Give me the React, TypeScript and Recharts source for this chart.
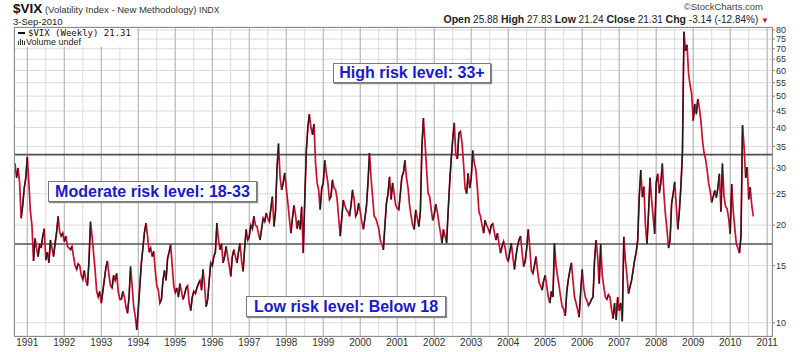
import React from 'react';
import { LineChart, Line, XAxis, YAxis, CartesianGrid, ReferenceLine } from 'recharts';

// Weekly $VIX, read off roughly twice a month (1990 starts in September)
const v1990 = [31, 28, 30, 27, 21, 23, 26, 28];
const v1991 = [32.5, 27, 22, 20, 15.5, 18.2, 17, 16, 17.5, 17, 18.5, 19.5, 15.6, 16.5, 15.3, 18, 17, 16, 17.5, 19, 21.3, 19, 18.5, 18.9];
const v1992 = [17.8, 18.5, 17.2, 17, 16.8, 17.2, 16, 15, 14.6, 15.2, 15, 14, 13.6, 14.5, 13.5, 13, 15.5, 20.5, 18.5, 16.4, 14.5, 12.5, 12, 12.5];
const v1993 = [11.5, 12.5, 13.6, 14.8, 15.5, 14, 13, 12.8, 14, 13.5, 14.2, 12.5, 11.8, 11.8, 12.5, 12, 11.2, 10.7, 12, 14.9, 13, 11.2, 10.5, 9.5];
const v1994 = [11, 13, 15.3, 17, 19, 20.3, 18.5, 16.5, 17, 16, 16.6, 14.5, 13, 12.6, 11.5, 11.8, 13.5, 14.5, 13.5, 15.8, 16.5, 17.4, 15, 13];
const v1995 = [12.4, 12.8, 12, 13.2, 12.5, 11.8, 12.2, 12.8, 13, 11.5, 10.9, 12, 12.5, 12.3, 12.8, 13.2, 13.5, 12.6, 14.6, 13, 11.2, 11.8, 13.5, 15.3];
const v1996 = [15, 16, 16.5, 20.3, 18, 16.8, 17.5, 15.3, 16, 17.2, 16, 15, 13.9, 16, 16.8, 16, 15.3, 16.5, 17.6, 15.5, 14.4, 17, 19.4, 18];
const v1997 = [18.5, 20, 19.5, 21.3, 20, 19.8, 18.8, 18, 19.5, 21, 20.5, 21.8, 21, 20.5, 22.5, 24.5, 19.8, 22, 30, 35.7, 28, 25.7, 27, 29];
const v1998 = [26, 23.5, 21, 18.9, 21, 23, 21.5, 19.5, 20.7, 19.4, 22.8, 16.4, 24, 34, 40, 44, 40, 38, 41, 31, 27, 25.7, 22.3, 26];
const v1999 = [27, 31.7, 29, 27, 24, 24.5, 27.6, 26, 25.7, 24, 21, 18.5, 21, 23.9, 23, 22.3, 22, 21.3, 23, 25.7, 24, 21.3, 21.8, 23.4];
const v2000 = [22, 20.5, 19.4, 21, 22.8, 27, 33.4, 28, 24.5, 21.3, 21, 20.3, 19.5, 18, 17.5, 16.8, 20, 23.4, 25, 28.2, 24, 27, 25, 23];
const v2001 = [22.5, 22.3, 25, 28.2, 29, 31.7, 28, 26, 23, 21.3, 20, 19.4, 22.3, 21, 19.8, 22, 35, 42.8, 36, 30, 25.1, 24.5, 22.5, 20.7];
const v2002 = [21.5, 23.2, 22, 20.3, 19, 17.6, 19.4, 18.5, 17.6, 22, 27, 32, 36.7, 41.4, 33, 32, 38.4, 38.9, 36, 31, 26, 25, 28.9, 26];
const v2003 = [28, 34, 31, 29.6, 26, 22, 21.3, 20, 18.9, 20.7, 20, 19.5, 18.9, 20, 20.2, 19, 18, 18.9, 17.5, 16.4, 17.2, 17.8, 17, 15.8];
const v2004 = [15.5, 16.5, 17.6, 16, 14.6, 16, 17.2, 18, 18.5, 16.5, 14.9, 15.5, 17, 19.4, 17, 14.5, 14.2, 15, 16, 14.5, 13.3, 13, 12.6, 13.5];
const v2005 = [14, 13, 12, 11.5, 12.5, 12, 17.6, 15, 13.9, 13, 12, 11.2, 11, 10.5, 12.5, 13.6, 14.5, 15.3, 13.5, 12, 11.5, 11, 10.4, 12.5];
const v2006 = [14.6, 12.8, 12, 11.7, 11.3, 11.5, 11.8, 12, 15.6, 18, 16, 13.2, 17.5, 14, 12.9, 12, 11.8, 12.2, 12, 11, 10.3, 11.5, 10.2, 12];
const v2007 = [10.9, 11.5, 10.1, 18.4, 15.6, 14, 12.3, 12.9, 13.5, 14.5, 15.6, 16.5, 18, 24.5, 29.6, 24.4, 26.3, 20, 17.5, 21.7, 28, 24, 21.2, 18.8];
const v2008 = [27, 28.8, 25.1, 27, 31, 25, 21.5, 19.4, 17, 18, 23.3, 25, 27.2, 23, 19.4, 22, 26.2, 33.2, 79, 69, 72, 58.6, 54, 50.9];
const v2009 = [42, 47.3, 44, 49, 46, 42, 36.6, 33.5, 32, 29.6, 27, 25.5, 23.5, 24.5, 25.6, 24.3, 26, 28.8, 22, 31, 24.5, 22.8, 22.5, 21];
const v2010 = [18.8, 26.8, 22, 19.5, 17.5, 17, 16.4, 18.5, 40.7, 35, 28, 30.2, 24, 26.2, 23, 21.3];

const years: [number, number[]][] = [
  [1990, v1990], [1991, v1991], [1992, v1992], [1993, v1993], [1994, v1994], [1995, v1995],
  [1996, v1996], [1997, v1997], [1998, v1998], [1999, v1999], [2000, v2000], [2001, v2001],
  [2002, v2002], [2003, v2003], [2004, v2004], [2005, v2005], [2006, v2006], [2007, v2007],
  [2008, v2008], [2009, v2009], [2010, v2010],
];

const yTicks = [10, 15, 20, 25, 30, 35, 40, 45, 50, 55, 60, 65, 70, 75, 80];
const yearTicks = [1991, 1992, 1993, 1994, 1995, 1996, 1997, 1998, 1999, 2000, 2001, 2002, 2003, 2004, 2005, 2006, 2007, 2008, 2009, 2010, 2011];
const riskLevels = [33, 17.5];

const X_MIN = 1990.64;
const X_MAX = 2011.13;
const FONT = '"Liberation Sans", Arial, sans-serif';
const RED = '#c8102e';

// build rows; rising segments get copied into one of three black keys so they don't join up
const rows: any[] = [];
years.forEach(([yr, vals]) => {
  const offset = yr === 1990 ? 24 - vals.length : 0;
  vals.forEach((v, i) => rows.push({ t: yr + (offset + i) / 24, v }));
});
for (let k = 1; k < rows.length; k++) {
  if (rows[k].v > rows[k - 1].v) {
    const key = 'up' + (k % 3);
    rows[k - 1][key] = rows[k - 1].v;
    rows[k][key] = rows[k].v;
  }
}

const halfTicks = yearTicks.flatMap(y => [y - 0.5, y]).filter(t => t > X_MIN);

const Box = ({ left, top, width, height, text }: any) => (
  <div style={{
    position: 'absolute', left, top, width, height, boxSizing: 'border-box',
    background: '#fff', border: '1px solid #7a7a7a', boxShadow: '1px 1px 1px #888',
    fontFamily: FONT, fontWeight: 'bold', fontSize: 16, color: '#1a1ac8',
    display: 'flex', alignItems: 'center', justifyContent: 'center', whiteSpace: 'nowrap',
  }}>{text}</div>
);

export default function App() {
  return (
    <div style={{ position: 'absolute', left: 0, top: 0, width: 800, height: 352, background: '#fff', overflow: 'hidden' }}>
      <LineChart width={800} height={352} data={rows} margin={{ top: 27, right: 0, bottom: 0, left: 14 }}>
        <CartesianGrid stroke="#dadada" strokeWidth={1} />
        <XAxis
          dataKey="t"
          type="number"
          domain={[X_MIN, X_MAX]}
          allowDataOverflow
          ticks={halfTicks}
          interval={0}
          tickFormatter={(t: number) => (Number.isInteger(t) ? String(t) : '')}
          tick={{ fontSize: 10, fill: '#333', fontFamily: FONT }}
          axisLine={false}
          tickLine={false}
          tickSize={0}
          tickMargin={3}
          height={16}
        />
        <YAxis
          orientation="right"
          scale="log"
          domain={[9.1, 81.7]}
          allowDataOverflow
          ticks={yTicks}
          interval={0}
          tick={{ fontSize: 9, fill: '#333', fontFamily: FONT }}
          axisLine={false}
          tickLine={{ stroke: '#888' }}
          tickSize={3}
          tickMargin={1}
          width={28}
        />
        {yearTicks.map(y => (
          <ReferenceLine key={y} x={y} stroke="#b5b5b5" strokeWidth={1} ifOverflow="hidden" />
        ))}
        {riskLevels.map(l => (
          <ReferenceLine key={l} y={l} stroke="#505050" strokeWidth={1.6} />
        ))}
        <Line type="linear" dataKey="v" stroke={RED} strokeWidth={1.7} dot={false} isAnimationActive={false} />
        <Line type="linear" dataKey="up0" stroke="#1a1a1a" strokeWidth={1.3} dot={false} isAnimationActive={false} connectNulls={false} />
        <Line type="linear" dataKey="up1" stroke="#1a1a1a" strokeWidth={1.3} dot={false} isAnimationActive={false} connectNulls={false} />
        <Line type="linear" dataKey="up2" stroke="#1a1a1a" strokeWidth={1.3} dot={false} isAnimationActive={false} connectNulls={false} />
      </LineChart>

      {/* plot frame */}
      <div style={{ position: 'absolute', left: 14, top: 27, width: 759, height: 310, boxSizing: 'border-box', border: '1px solid #8c8c8c', pointerEvents: 'none' }} />

      {/* header */}
      <div style={{ position: 'absolute', left: 13, top: 2, fontFamily: FONT, fontSize: 13.5, lineHeight: 1, whiteSpace: 'nowrap', color: '#111' }}>
        <span style={{ fontWeight: 'bold', fontSize: 13.5 }}>$VIX</span>
        <span style={{ fontSize: 9.5, color: '#333' }}> (Volatility Index - New Methodology) </span>
        <span style={{ fontSize: 8.5, color: '#333' }}>INDX</span>
      </div>
      <div style={{ position: 'absolute', left: 13, top: 16.5, fontFamily: FONT, fontSize: 9.5, lineHeight: 1, color: '#222' }}>3-Sep-2010</div>
      <div style={{ position: 'absolute', right: 37, top: 2, fontFamily: FONT, fontSize: 9.5, lineHeight: 1, color: '#444' }}>©StockCharts.com</div>
      <div style={{ position: 'absolute', right: 31, top: 14, fontFamily: FONT, fontSize: 10.5, lineHeight: 1, whiteSpace: 'nowrap', color: '#222' }}>
        <b>Open</b><span style={{ fontSize: 10 }}> 25.88 </span>
        <b>High</b><span style={{ fontSize: 10 }}> 27.83 </span>
        <b>Low</b><span style={{ fontSize: 10 }}> 21.24 </span>
        <b>Close</b><span style={{ fontSize: 10 }}> 21.31 </span>
        <b>Chg</b><span style={{ fontSize: 10 }}> -3.14 (-12.84%) </span>
        <span style={{ fontSize: 8, color: '#c8102e' }}>▼</span>
      </div>

      {/* in-plot legend */}
      <div style={{ position: 'absolute', left: 15, top: 28, width: 121, height: 19, background: '#fff' }} />
      <div style={{ position: 'absolute', left: 18, top: 32, width: 7, height: 2, background: '#111' }} />
      <div style={{ position: 'absolute', left: 28, top: 28.5, fontFamily: '"DejaVu Sans Mono", monospace', fontSize: 9, lineHeight: 1, color: '#111', whiteSpace: 'nowrap' }}>$VIX (Weekly) 21.31</div>
      <div style={{ position: 'absolute', left: 18, top: 41, width: 1, height: 4, background: '#333' }} />
      <div style={{ position: 'absolute', left: 20, top: 39, width: 1, height: 6, background: '#333' }} />
      <div style={{ position: 'absolute', left: 22, top: 40, width: 1, height: 5, background: '#333' }} />
      <div style={{ position: 'absolute', left: 24, top: 41, width: 1, height: 4, background: '#333' }} />
      <div style={{ position: 'absolute', left: 26, top: 37.5, fontFamily: FONT, fontSize: 9, lineHeight: 1, color: '#222', whiteSpace: 'nowrap' }}>Volume undef</div>

      {/* risk annotations */}
      <Box left={333} top={63} width={158} height={20} text="High risk level: 33+" />
      <Box left={48} top={181} width={209} height={21} text="Moderate risk level: 18-33" />
      <Box left={246} top={296} width={200} height={21} text="Low risk level: Below 18" />
    </div>
  );
}
